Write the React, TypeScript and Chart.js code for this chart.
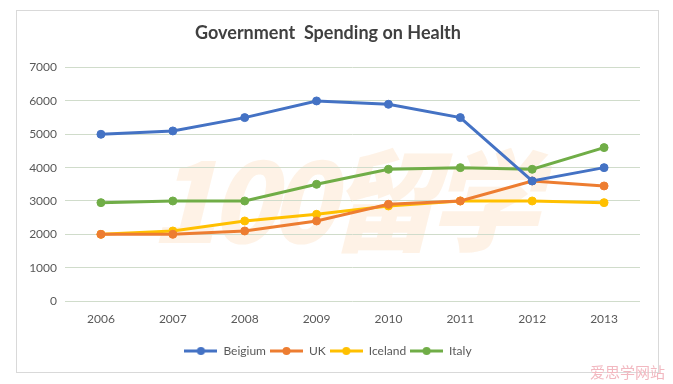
import React, { useEffect, useRef } from "react";
import { Chart, registerables } from "chart.js";

Chart.register(...registerables);

const years = ["2006", "2007", "2008", "2009", "2010", "2011", "2012", "2013"];
const belgium = [5000, 5100, 5500, 6000, 5900, 5500, 3600, 4000];
const uk = [2000, 2000, 2100, 2400, 2900, 3000, 3600, 3450];
const iceland = [2000, 2100, 2400, 2600, 2850, 3000, 3000, 2950];
const italy = [2950, 3000, 3000, 3500, 3950, 4000, 3950, 4600];
const seriesNames = ["Beigium", "UK", "Iceland", "Italy"];
const seriesColors = ["#4472C4", "#ED7D31", "#FFC000", "#70AD47"];

const FONT = "Lato, 'Open Sans', sans-serif";

function legendMarker(color: string): HTMLCanvasElement {
  const c = document.createElement("canvas");
  c.width = 33;
  c.height = 10;
  const g = c.getContext("2d")!;
  g.strokeStyle = color;
  g.lineWidth = 3;
  g.beginPath();
  g.moveTo(0, 5);
  g.lineTo(33, 5);
  g.stroke();
  g.fillStyle = color;
  g.beginPath();
  g.arc(16.5, 5, 4, 0, Math.PI * 2);
  g.fill();
  return c;
}

export default function App() {
  const ref = useRef<HTMLCanvasElement>(null);
  useEffect(() => {
    document.body.style.margin = "0";
    const values = [belgium, uk, iceland, italy];
    const chart = new Chart(ref.current!, {
      type: "line",
      data: {
        labels: years,
        datasets: seriesNames.map((name, i) => ({
          label: name,
          data: values[i],
          borderColor: seriesColors[i],
          backgroundColor: seriesColors[i],
          borderWidth: 3,
          pointRadius: 4,
          pointBackgroundColor: seriesColors[i],
          pointBorderColor: seriesColors[i],
          pointBorderWidth: 1,
          tension: 0,
          pointStyle: "circle",
        })),
      },
      options: {
        animation: false,
        responsive: false,
        maintainAspectRatio: false,
        layout: { padding: { left: 0, right: 19, top: 0, bottom: 6 } },
        plugins: {
          title: {
            display: true,
            text: "Government  Spending on Health",
            color: "#404040",
            font: { family: FONT, size: 18, weight: "bold" },
            padding: { top: 12, bottom: 24 },
          },
          legend: {
            position: "bottom",
            labels: {
              usePointStyle: true,
              pointStyleWidth: 33,
              padding: 4,
              color: "#595959",
              font: { family: FONT, size: 12 },
              generateLabels: (ch: any) =>
                ch.data.datasets.map((ds: any, i: number) => ({
                  text: ds.label,
                  pointStyle: legendMarker(seriesColors[i]),
                  fillStyle: seriesColors[i],
                  strokeStyle: seriesColors[i],
                  lineWidth: 0,
                  hidden: false,
                  datasetIndex: i,
                  fontColor: "#595959",
                })),
            },
          },
          tooltip: { enabled: false },
        },
        scales: {
          x: {
            offset: true,
            grid: { display: false, drawTicks: false },
            border: { display: false },
            ticks: {
              color: "#595959",
              padding: 11,
              font: { family: FONT, size: 12 },
              maxRotation: 0,
            },
            afterFit: (s: any) => {
              s.height = 40;
            },
          },
          y: {
            min: 0,
            max: 7000,
            grid: { color: "#d0dccb", lineWidth: 1, drawTicks: false },
            border: { display: false },
            ticks: {
              stepSize: 1000,
              color: "#595959",
              padding: 8,
              font: { family: FONT, size: 12 },
              callback: (v: any) => String(v),
            },
            afterFit: (s: any) => {
              s.width = 49;
            },
          },
        },
      },
    });
    return () => chart.destroy();
  }, []);

  return (
    <div
      style={{
        position: "fixed",
        left: 0,
        top: 0,
        width: 673,
        height: 384,
        background: "#ffffff",
        overflow: "hidden",
      }}
    >
      <div
        style={{
          position: "absolute",
          left: 16,
          top: 10,
          width: 643,
          height: 363,
          border: "1px solid #d9d9d9",
          boxSizing: "border-box",
        }}
      />
      <div
        style={{
          position: "absolute",
          left: 150,
          top: 125,
          fontFamily: "'Noto Sans CJK SC', sans-serif",
          fontWeight: 900,
          fontStyle: "italic",
          fontSize: 110,
          lineHeight: "140px",
          color: "rgba(250, 196, 140, 0.22)",
          whiteSpace: "nowrap",
          letterSpacing: -8,
        }}
      >
        100留学
      </div>
      <canvas
        ref={ref}
        width={643}
        height={363}
        style={{ position: "absolute", left: 16, top: 10, width: 643, height: 363 }}
      />
      <div
        style={{
          position: "absolute",
          left: 590,
          top: 362,
          fontFamily: "'Noto Sans CJK SC', sans-serif",
          fontSize: 15,
          lineHeight: "20px",
          color: "#f2b8c0",
          whiteSpace: "nowrap",
        }}
      >
        爱思学网站
      </div>
    </div>
  );
}
